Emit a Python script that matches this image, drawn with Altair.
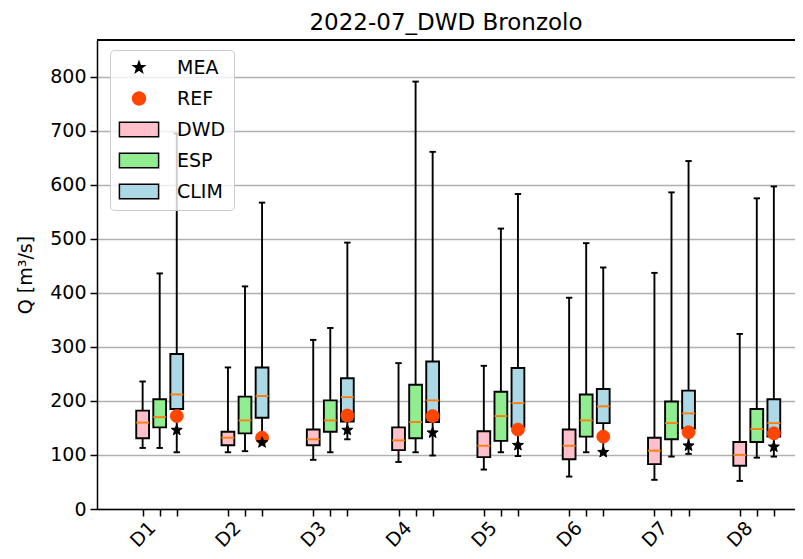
import math
import altair as alt
import pandas as pd

# ---------------- data ----------------
days = ["D1", "D2", "D3", "D4", "D5", "D6", "D7", "D8"]

dwd_min = [113, 105, 91, 87, 73, 60, 54, 52]
dwd_q1 = [131, 118, 118, 109, 96, 92, 83, 80]
dwd_med = [160, 132, 129, 127, 117, 117, 108, 100]
dwd_q3 = [182, 143, 147, 151, 144, 147, 132, 124]
dwd_max = [236, 262, 313, 270, 265, 391, 437, 324]

esp_min = [113, 107, 105, 105, 105, 105, 97, 95]
esp_q1 = [151, 140, 143, 131, 126, 134, 129, 124]
esp_med = [170, 164, 164, 161, 172, 164, 159, 148]
esp_q3 = [203, 208, 201, 230, 217, 212, 199, 185]
esp_max = [436, 412, 335, 791, 519, 492, 586, 575]

clim_min = [105, 120, 129, 99, 98, 103, 102, 97]
clim_q1 = [185, 169, 162, 161, 152, 159, 149, 134]
clim_med = [212, 209, 207, 201, 196, 190, 177, 159]
clim_q3 = [287, 262, 242, 273, 261, 222, 219, 203]
clim_max = [695, 567, 493, 661, 583, 447, 644, 597]

mea = [146, 123, 146, 141, 118, 105, 117, 115]
ref = [172, 132, 173, 172, 147, 134, 142, 140]

series_names = ["DWD", "ESP", "CLIM"]
series_offsets = [-0.2, 0.0, 0.2]
legend_domain = ["MEA", "REF", "DWD", "ESP", "CLIM"]
fill_range = ["black", "#ff4500", "pink", "lightgreen", "lightblue"]
stroke_range = ["black", "#ff4500", "black", "black", "black"]
y_ticks = [0, 100, 200, 300, 400, 500, 600, 700, 800]
y_max = 868

# ---------------- build tables ----------------
stats = {
    "DWD": (dwd_min, dwd_q1, dwd_med, dwd_q3, dwd_max),
    "ESP": (esp_min, esp_q1, esp_med, esp_q3, esp_max),
    "CLIM": (clim_min, clim_q1, clim_med, clim_q3, clim_max),
}
rows = []
for s, off in zip(series_names, series_offsets):
    mn, q1, md, q3, mx = stats[s]
    for i, d in enumerate(days):
        rows.append(dict(series=s, day=d, pos=i + off, lo=mn[i], q1=q1[i],
                         med=md[i], q3=q3[i], hi=mx[i]))
box_df = pd.DataFrame(rows)

prow = []
for i, d in enumerate(days):
    prow.append(dict(series="REF", day=d, pos=i + 0.2, val=ref[i]))
    prow.append(dict(series="MEA", day=d, pos=i + 0.2, val=mea[i]))
pts_df = pd.DataFrame(prow)

tick_positions = [i + o for i in range(len(days)) for o in series_offsets]


# ---------------- symbol shapes ----------------
def star_path(R, r):
    p = []
    for k in range(10):
        a = math.pi / 2 + k * math.pi / 5
        rad = R if k % 2 == 0 else r
        p.append((rad * math.cos(a), -rad * math.sin(a)))
    return "M" + "L".join(f"{x:.4f},{y:.4f}" for x, y in p) + "Z"


def circle_path(R, n=32):
    p = [(R * math.cos(2 * math.pi * k / n), R * math.sin(2 * math.pi * k / n)) for k in range(n)]
    return "M" + "L".join(f"{x:.4f},{y:.4f}" for x, y in p) + "Z"


rect_path = "M-0.98,-0.36L0.98,-0.36L0.98,0.36L-0.98,0.36Z"
shape_range = [star_path(0.29, 0.12), circle_path(0.32), rect_path, rect_path, rect_path]

FONT = "DejaVu Sans"
HALF = 0.075
CAP = 0.0375

xscale = alt.Scale(domain=[-0.735, 7.448], nice=False, zero=False)
yscale = alt.Scale(domain=[0, y_max], nice=False)

x_axis = alt.Axis(orient="bottom", values=tick_positions,
                  labelExpr="abs(datum.value - round(datum.value) + 0.2) < 0.01 ? 'D' + (round(datum.value) + 1) : ''",
                  labelAngle=-45, labelAlign="center", labelBaseline="middle",
                  labelPadding=18, labelFontSize=19, labelFont=FONT, labelColor="black",
                  labelOverlap=False, labelFlush=False, labelBound=False,
                  tickSize=7, tickWidth=1.5, tickColor="black",
                  domainColor="black", domainWidth=1.5, grid=False, title=None)

y_axis = alt.Axis(orient="left", values=y_ticks, grid=True, gridColor="#b0b0b0", gridWidth=1.5,
                  domainColor="black", domainWidth=1.5, tickColor="black", tickWidth=1.5,
                  tickSize=7, labelFontSize=19, labelFont=FONT, labelColor="black",
                  labelPadding=4, title="Q [m³/s]", titleFontSize=19, titleFont=FONT,
                  titleFontWeight="normal", titleColor="black", titlePadding=14)

legend = alt.Legend(title=None, orient="none", legendX=13, legendY=10,
                    symbolSize=1600, clipHeight=19, rowPadding=11, padding=8,
                    labelOffset=17, labelFontSize=19, labelFont=FONT, labelColor="black",
                    symbolStrokeWidth=1.5, fillColor="rgba(255,255,255,0.8)",
                    strokeColor="#cccccc", cornerRadius=4)

fill_enc = alt.Fill("series:N", scale=alt.Scale(domain=legend_domain, range=fill_range), legend=legend)
stroke_enc = alt.Stroke("series:N", scale=alt.Scale(domain=legend_domain, range=stroke_range), legend=legend)


def X(f):
    return alt.X(f, type="quantitative", scale=xscale, axis=x_axis)


def Y(f):
    return alt.Y(f, type="quantitative", scale=yscale, axis=y_axis)


base = alt.Chart(box_df).transform_calculate(
    xl=f"datum.pos - {HALF}", xr=f"datum.pos + {HALF}",
    cl=f"datum.pos - {CAP}", cr=f"datum.pos + {CAP}")

# top frame line placed at the top of the y domain
frame_top = alt.Chart(box_df).mark_rule(color="black", strokeWidth=1.5).encode(
    y=alt.Y(datum=y_max, type="quantitative", scale=yscale, axis=y_axis))

whisk = base.mark_rule(color="black", strokeWidth=1.9).encode(
    x=X("pos"), y=Y("lo"), y2="hi:Q")

cap_lo = base.mark_rule(color="black", strokeWidth=1.9).encode(
    x=X("cl"), x2="cr:Q", y=Y("lo"))
cap_hi = base.mark_rule(color="black", strokeWidth=1.9).encode(
    x=X("cl"), x2="cr:Q", y=Y("hi"))

boxes = base.mark_rect(strokeWidth=1.9, opacity=1).encode(
    x=X("xl"), x2="xr:Q", y=Y("q1"), y2="q3:Q",
    fill=fill_enc, stroke=stroke_enc)

meds = base.mark_rule(color="#ff7f0e", strokeWidth=1.9).encode(
    x=X("xl"), x2="xr:Q", y=Y("med"))

pts = alt.Chart(pts_df).mark_point(filled=True, opacity=1, size=1600, strokeWidth=1).encode(
    x=X("pos"), y=Y("val"),
    fill=fill_enc, stroke=stroke_enc,
    shape=alt.Shape("series:N", scale=alt.Scale(domain=legend_domain, range=shape_range), legend=legend))

chart = alt.layer(whisk, cap_lo, cap_hi, boxes, meds, pts, frame_top).properties(
    width=698, height=469,
    title=alt.TitleParams("2022-07_DWD Bronzolo", fontSize=23, font=FONT, fontWeight="normal",
                          anchor="middle", baseline="alphabetic", offset=13, dy=27, color="black"),
    autosize=alt.AutoSizeParams(type="none"),
    padding={"left": 89, "top": 32, "right": 0, "bottom": 42},
).configure_view(stroke=None)

chart.save("out.html", embed_options={"renderer": "svg", "actions": False})
